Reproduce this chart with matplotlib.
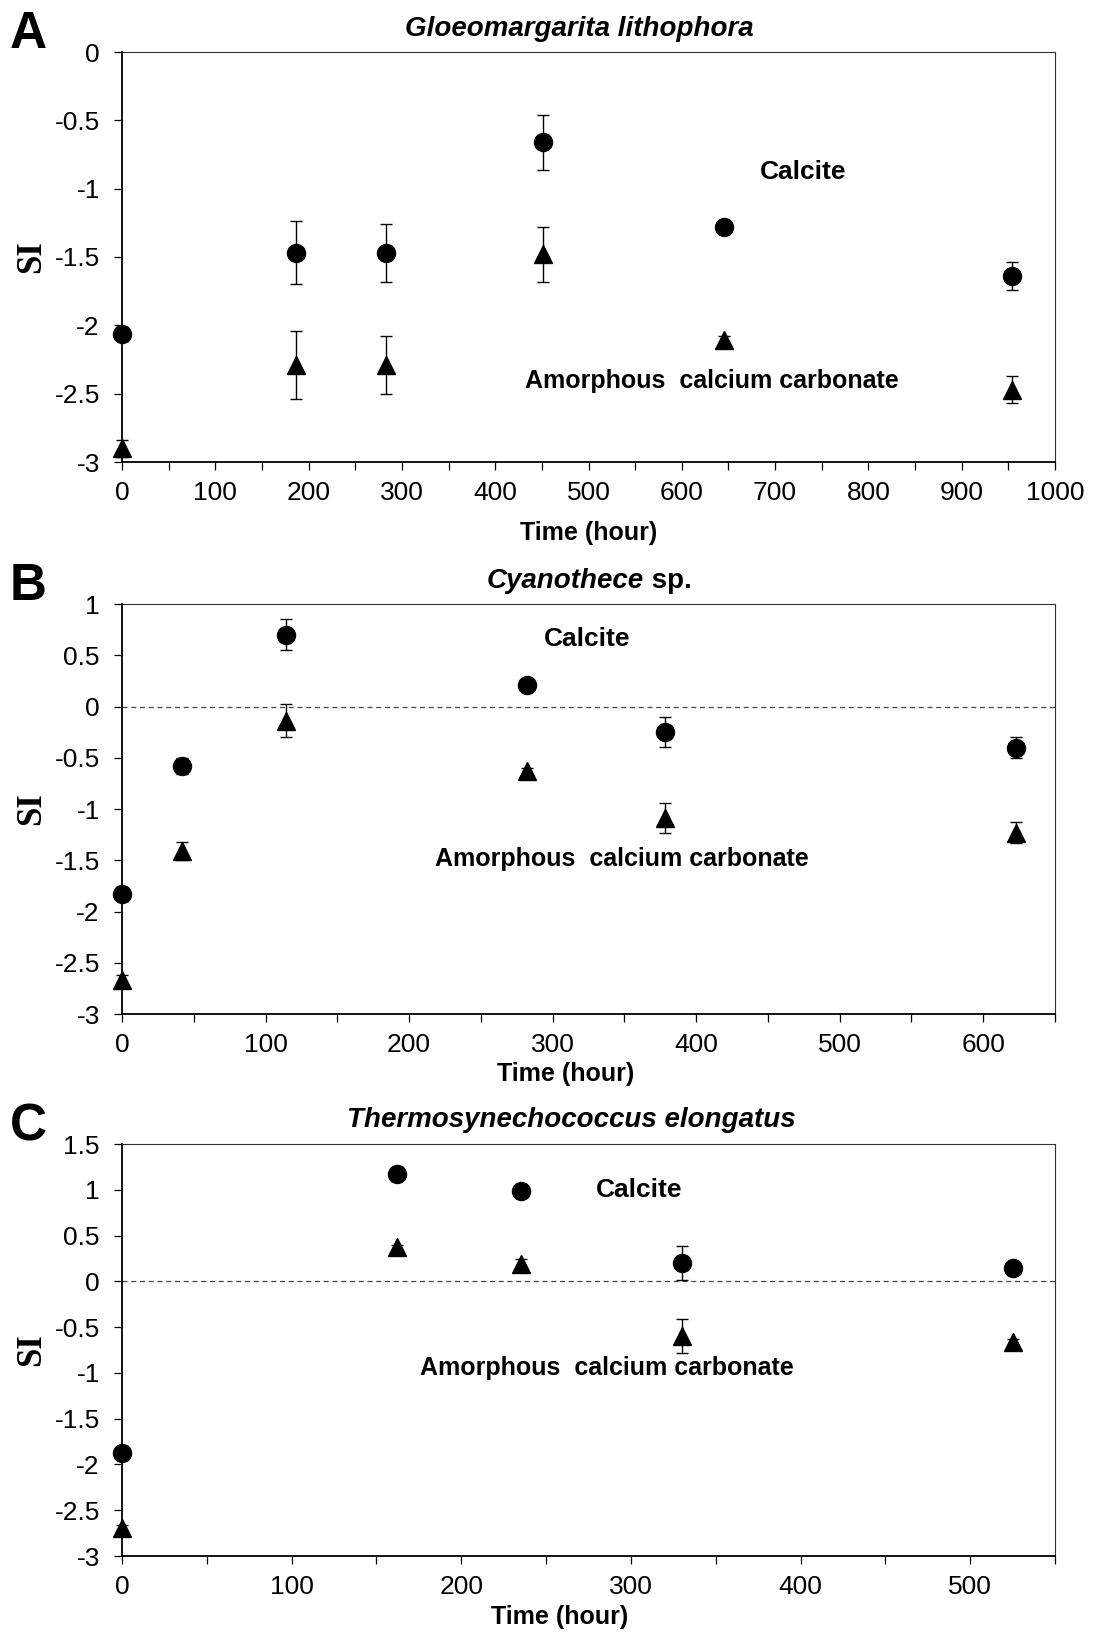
import matplotlib
matplotlib.use("Agg")
import matplotlib.pyplot as plt
from matplotlib.ticker import MultipleLocator, FuncFormatter

plt.rcParams['font.family'] = ['Liberation Sans', 'DejaVu Sans']
plt.rcParams['axes.unicode_minus'] = False

# --- data (SI vs time) ---
# A: Gloeomargarita lithophora
a_time = [0, 187, 283, 451, 645, 954]
a_calcite = [-2.06, -1.47, -1.47, -0.66, -1.28, -1.64]
a_calcite_err = [0.05, 0.23, 0.21, 0.20, 0.03, 0.10]
a_acc = [-2.90, -2.29, -2.29, -1.48, -2.11, -2.47]
a_acc_err = [0.06, 0.25, 0.21, 0.20, 0.03, 0.10]

# B: Cyanothece sp.
b_time = [0, 42, 114, 282, 378, 623]
b_calcite = [-1.83, -0.58, 0.70, 0.205, -0.25, -0.40]
b_calcite_err = [0.03, 0.08, 0.15, 0.02, 0.145, 0.10]
b_acc = [-2.67, -1.41, -0.14, -0.63, -1.09, -1.23]
b_acc_err = [0.05, 0.09, 0.16, 0.03, 0.145, 0.10]

# C: Thermosynechococcus elongatus
c_time = [0, 162, 235, 330, 525]
c_calcite = [-1.88, 1.17, 0.99, 0.20, 0.15]
c_calcite_err = [0.02, 0.02, 0.02, 0.185, 0.02]
c_acc = [-2.69, 0.37, 0.19, -0.60, -0.66]
c_acc_err = [0.03, 0.03, 0.05, 0.185, 0.03]

W, H = 1094, 1642
fig = plt.figure(figsize=(W / 100, H / 100), dpi=100)


def px_axes(left, top, right, bottom):
    return fig.add_axes([left / W, 1 - bottom / H, (right - left) / W, (bottom - top) / H])


def style(ax, xmax, ymin, ymax, zero_line):
    ax.set_xlim(0, xmax)
    ax.set_ylim(ymin, ymax)
    ax.xaxis.set_major_locator(MultipleLocator(100))
    ax.xaxis.set_minor_locator(MultipleLocator(50))
    ax.yaxis.set_major_locator(MultipleLocator(0.5))
    fmt = FuncFormatter(lambda v, p: "%g" % round(v, 2))
    ax.xaxis.set_major_formatter(fmt)
    ax.yaxis.set_major_formatter(fmt)
    ax.tick_params(which='both', direction='out', length=6, width=0.9, color='black',
                   labelsize=19, top=False, right=False)
    ax.tick_params(axis='x', which='major', pad=8)
    ax.tick_params(axis='y', which='major', pad=10)
    for s in ['left', 'bottom']:
        ax.spines[s].set_linewidth(1.3)
        ax.spines[s].set_color('black')
    for s in ['top', 'right']:
        ax.spines[s].set_linewidth(0.8)
        ax.spines[s].set_color('#333333')
    if zero_line:
        ax.axhline(0, color='#444444', lw=0.9, ls=(0, (4, 3)), zorder=1)
    ax.set_ylabel("SI", family='Liberation Serif', fontweight='bold', fontsize=25)
    ax.yaxis.set_label_coords(-0.079, 0.5)


def plot_series(ax, t, calc, calc_err, acc, acc_err):
    ax.errorbar(t, calc, yerr=calc_err, fmt='o', color='black', ms=13,
                elinewidth=1, capsize=4, capthick=1, clip_on=False, zorder=3)
    ax.errorbar(t, acc, yerr=acc_err, fmt='^', color='black', ms=13,
                elinewidth=1, capsize=4, capthick=1, clip_on=False, zorder=3)


txt = dict(fontsize=18, fontweight='bold', ha='center', va='center')
ttl = dict(fontsize=20, fontweight='bold', va='center')

# Panel A
axA = px_axes(122, 52, 1055, 462)
style(axA, 1000, -3, 0, False)
plot_series(axA, a_time, a_calcite, a_calcite_err, a_acc, a_acc_err)
axA.text(730, -0.88, "Calcite", fontsize=19, fontweight='bold', ha='center', va='center')
axA.text(632, -2.41, "Amorphous  calcium carbonate", **txt)
axA.text(0.49, 1.055, "Gloeomargarita lithophora", transform=axA.transAxes,
         style='italic', ha='center', **ttl)
axA.set_xlabel("Time (hour)", fontsize=18, fontweight='bold')
axA.xaxis.set_label_coords(0.5, -0.145)

# Panel B
axB = px_axes(122, 604, 1055, 1014)
style(axB, 650, -3, 1, True)
plot_series(axB, b_time, b_calcite, b_calcite_err, b_acc, b_acc_err)
axB.text(324, 0.66, "Calcite", fontsize=19, fontweight='bold', ha='center', va='center')
axB.text(348, -1.49, "Amorphous  calcium carbonate", **txt)
axB.text(0.559, 1.057, "Cyanothece", transform=axB.transAxes,
         style='italic', ha='right', **ttl)
axB.text(0.559, 1.057, " sp.", transform=axB.transAxes, ha='left', **ttl)
axB.set_xlabel("Time (hour)", fontsize=18, fontweight='bold')
axB.xaxis.set_label_coords(0.475, -0.118)

# Panel C
axC = px_axes(122, 1144, 1055, 1556)
style(axC, 550, -3, 1.5, True)
plot_series(axC, c_time, c_calcite, c_calcite_err, c_acc, c_acc_err)
axC.text(305, 1.0, "Calcite", fontsize=19, fontweight='bold', ha='center', va='center')
axC.text(286, -0.945, "Amorphous  calcium carbonate", **txt)
axC.text(0.482, 1.058, "Thermosynechococcus elongatus", transform=axC.transAxes,
         style='italic', ha='center', **ttl)
axC.set_xlabel("Time (hour)", fontsize=18, fontweight='bold')
axC.xaxis.set_label_coords(0.469, -0.12)

# panel letters
for letter, y in [("A", 34), ("B", 587), ("C", 1127)]:
    fig.text(28 / W, 1 - y / H, letter, fontsize=37, fontweight='bold',
             ha='center', va='center')

fig.savefig("out.png", dpi=100)
